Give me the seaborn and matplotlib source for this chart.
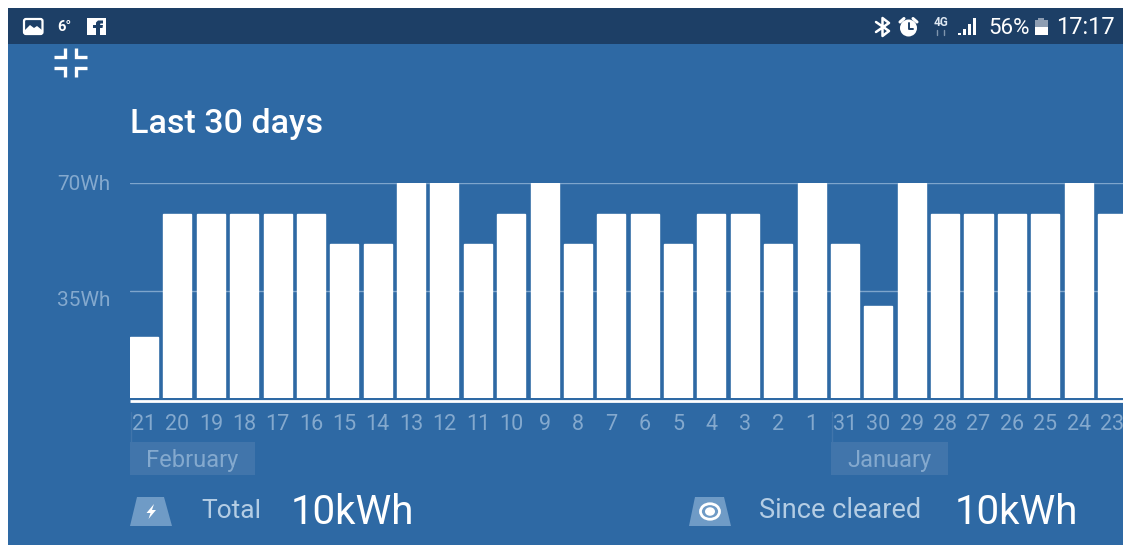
import matplotlib
matplotlib.use("Agg")
import matplotlib.pyplot as plt
from matplotlib.patches import Rectangle, Polygon, Circle, Ellipse, FancyBboxPatch
import pandas as pd
import seaborn as sns

days = ["21", "20", "19", "18", "17", "16", "15", "14", "13", "12", "11", "10", "9", "8", "7",
        "6", "5", "4", "3", "2", "1", "31", "30", "29", "28", "27", "26", "25", "24", "23"]
wh = [20, 60, 60, 60, 60, 60, 50, 50, 70, 70, 50, 60, 70, 50, 60,
      60, 50, 60, 60, 50, 70, 50, 30, 70, 60, 60, 60, 60, 70, 60]
y_ticks = [35, 70]
y_labels = ["35Wh", "70Wh"]

BLUE = "#2e69a4"
DARK = "#1d3f66"
FAINT = "#84a9ce"
GRID = "#7ea5cc"
BOX = "#4175ab"
ICON = "#6f9bc6"
SOFT = "#b4cde4"

sns.set_theme(style="white")
plt.rcParams["font.family"] = ["Roboto", "DejaVu Sans"]

fig = plt.figure(figsize=(11.23, 5.47), dpi=100, facecolor="white")

# everything around the chart, in pixels of the screenshot
bg = fig.add_axes([0, 0, 1, 1], zorder=0)
bg.set_xlim(0, 1123)
bg.set_ylim(547, 0)
bg.axis("off")
bg.add_patch(Rectangle((8, 8), 1115, 537, color=BLUE, lw=0))
bg.add_patch(Rectangle((8, 8), 1115, 36, color=DARK, lw=0))

# status bar, left
bg.add_patch(FancyBboxPatch((24, 19), 18.5, 15, boxstyle="round,pad=0,rounding_size=2", fc=DARK, ec="white", lw=1.6))
bg.add_patch(Polygon([(25, 33), (25, 30), (30, 25), (34, 28), (37, 26), (42, 30), (42, 33)], color="white", lw=0))
bg.text(64.5, 27, "6°", color="white", fontsize=10.5, fontweight="bold", ha="center", va="center")
bg.add_patch(Rectangle((87, 18), 19, 17, color="white", lw=0))
bg.add_patch(Polygon([(96, 35), (96, 28), (93, 28), (93, 25), (96, 25), (96, 22.5), (98, 20.5), (103, 20.5),
                      (103, 23.5), (100.5, 23.5), (100, 25), (103, 25), (102.5, 28), (100, 28), (100, 35)],
                     color=DARK, lw=0))

# status bar, right
bg.plot([876, 889, 882.5, 882.5, 889, 876], [22, 31, 36, 18, 23, 32], color="white", lw=1.8)
bg.add_patch(Circle((908.5, 28), 8.5, fc="white", ec="none"))
bg.plot([908.5, 908.5, 913], [23, 28.5, 28.5], color=DARK, lw=1.4)
bg.plot([900, 904], [22, 18.5], color="white", lw=2.2)
bg.plot([913, 917], [18.5, 22], color="white", lw=2.2)
bg.text(940.5, 22.5, "4G", color="#dfe8f2", fontsize=8.5, fontweight="bold", ha="center", va="center")
bg.plot([937, 937], [30, 35], color="#7f95ad", lw=1)
bg.plot([944, 944], [30, 35], color="#7f95ad", lw=1)
for x0, top in zip([958, 963, 968, 973], [33, 29, 24, 18]):
    bg.add_patch(Rectangle((x0, top), 3.4, 35 - top, color="white", lw=0))
bg.text(988, 28, "56%", color="white", fontsize=16, ha="left", va="center")
bg.add_patch(Rectangle((1038, 18), 6, 2, color="#8d9db2", lw=0))
bg.add_patch(Rectangle((1034.5, 20), 13.5, 15, color="#8d9db2", lw=0))
bg.add_patch(Rectangle((1034.5, 27), 13.5, 8, color="white", lw=0))
bg.text(1056, 28, "17:17", color="white", fontsize=17, ha="left", va="center")

# collapse icon
for xs, ys in [([54, 64.5, 64.5], [57, 57, 48]), ([87, 76, 76], [57, 57, 48]),
               ([54, 64.5, 64.5], [68, 68, 77]), ([87, 76, 76], [68, 68, 77])]:
    bg.plot(xs, ys, color="white", lw=2.4, solid_joinstyle="miter", solid_capstyle="butt")

bg.text(130, 124, "Last 30 days", color="white", fontsize=24.5, fontweight="medium", ha="left", va="center")

# baseline, month markers
bg.plot([130, 1123], [401, 401], color="white", lw=2, solid_capstyle="butt")
for x0, x1, name in [(130, 255, "February"), (831, 948, "January")]:
    bg.plot([x0 + 0.5, x0 + 0.5], [412, 442], color=BOX, lw=1)
    bg.add_patch(Rectangle((x0, 442), x1 - x0, 33, color=BOX, lw=0))
    bg.text((x0 + x1) / 2, 460.5, name, color=FAINT, fontsize=17, ha="center", va="center")

# footer
bg.add_patch(Polygon([(137, 497), (164, 497), (172, 526), (130, 526)], color=ICON, lw=0))
bg.add_patch(Polygon([(154, 504), (146.5, 513), (150.5, 513), (148.5, 519), (156, 510), (152, 510)], color="white", lw=0))
bg.text(201, 511, "Total", color=SOFT, fontsize=19, ha="left", va="center")
bg.text(291, 512, "10kWh", color="white", fontsize=29, ha="left", va="center")
bg.add_patch(Polygon([(695, 497), (724, 497), (731, 526), (689, 526)], color=ICON, lw=0))
bg.add_patch(Ellipse((710, 511.5), 19, 15.5, fc="none", ec="white", lw=2))
bg.add_patch(Ellipse((710, 511.5), 10, 8.5, fc="white", ec="none"))
bg.text(759, 511, "Since cleared", color=SOFT, fontsize=19.5, ha="left", va="center")
bg.text(955, 512, "10kWh", color="white", fontsize=29, ha="left", va="center")

# the chart itself
ax = fig.add_axes([130 / 1123, (547 - 398) / 547, 993 / 1123, 215 / 547], zorder=1)
ax.patch.set_visible(False)
df = pd.DataFrame({"day": days, "wh": wh})
ax.axhline(35, color=GRID, lw=1, zorder=0)
ax.axhline(70, color=GRID, lw=1, zorder=0)
sns.barplot(data=df, x="day", y="wh", order=days, color="white", saturation=1, width=0.84, ax=ax, zorder=2)
ax.set_xlim(-0.42, 993 / 33.38 - 0.42)
ax.set_ylim(0, 70)
ax.set_xlabel("")
ax.set_ylabel("")
ax.set_yticks(y_ticks)
ax.set_yticklabels(y_labels, color=FAINT, fontsize=15)
ax.get_yticklabels()[0].set_verticalalignment("top")
ax.tick_params(axis="x", length=0, pad=11.5, labelsize=15.5, labelcolor=FAINT)
ax.tick_params(axis="y", length=0, pad=14)
sns.despine(ax=ax, left=True, bottom=True)

fig.savefig("out.png", dpi=100, facecolor="white")
